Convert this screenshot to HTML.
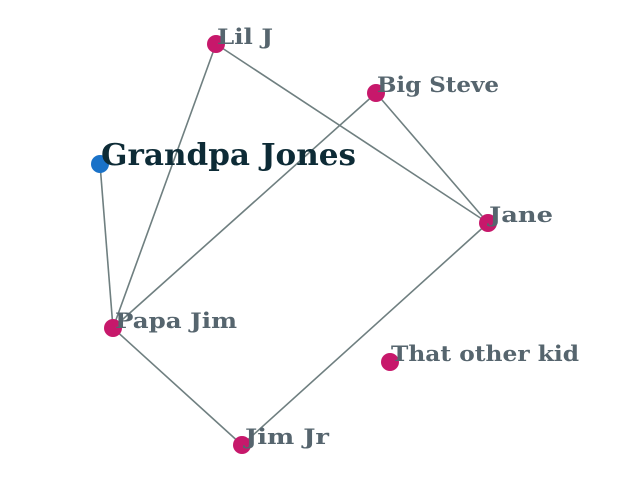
<!DOCTYPE html>
<html><head><style>body{margin:0;background:#fff}svg{display:block}
text{font-family:"DejaVu Serif","Liberation Serif",serif;font-weight:bold;fill:#56656e;font-size:21px}
</style></head><body>
<svg width="622" height="490" viewBox="0 0 622 490">
<g stroke="#6f7f80" stroke-width="1.6">
<line x1="216" y1="44" x2="113" y2="328"/>
<line x1="216" y1="44" x2="488" y2="223"/>
<line x1="376" y1="93" x2="113" y2="328"/>
<line x1="376" y1="93" x2="488" y2="223"/>
<line x1="100" y1="164" x2="113" y2="328"/>
<line x1="113" y1="328" x2="242" y2="445"/>
<line x1="242" y1="445" x2="488" y2="223"/>
</g>
<g fill="#c7186b">
<circle cx="216" cy="44" r="9"/><circle cx="376" cy="93" r="9"/><circle cx="488" cy="223" r="9"/>
<circle cx="113" cy="328" r="9"/><circle cx="390" cy="362" r="9"/><circle cx="242" cy="445" r="9"/>
</g>
<circle cx="100" cy="164" r="9" fill="#1a72c8"/>
<text x="217" y="44" textLength="56" lengthAdjust="spacingAndGlyphs">Lil J</text>
<text x="377" y="92" textLength="122" lengthAdjust="spacingAndGlyphs">Big Steve</text>
<text x="101" y="165" style="font-size:30px;fill:#0d2b36" textLength="255" lengthAdjust="spacingAndGlyphs">Grandpa Jones</text>
<text x="489" y="222" textLength="64" lengthAdjust="spacingAndGlyphs">Jane</text>
<text x="115" y="328" textLength="122" lengthAdjust="spacingAndGlyphs">Papa Jim</text>
<text x="391" y="361" textLength="188" lengthAdjust="spacingAndGlyphs">That other kid</text>
<text x="245" y="444" textLength="84" lengthAdjust="spacingAndGlyphs">Jim Jr</text>
</svg>
</body></html>
